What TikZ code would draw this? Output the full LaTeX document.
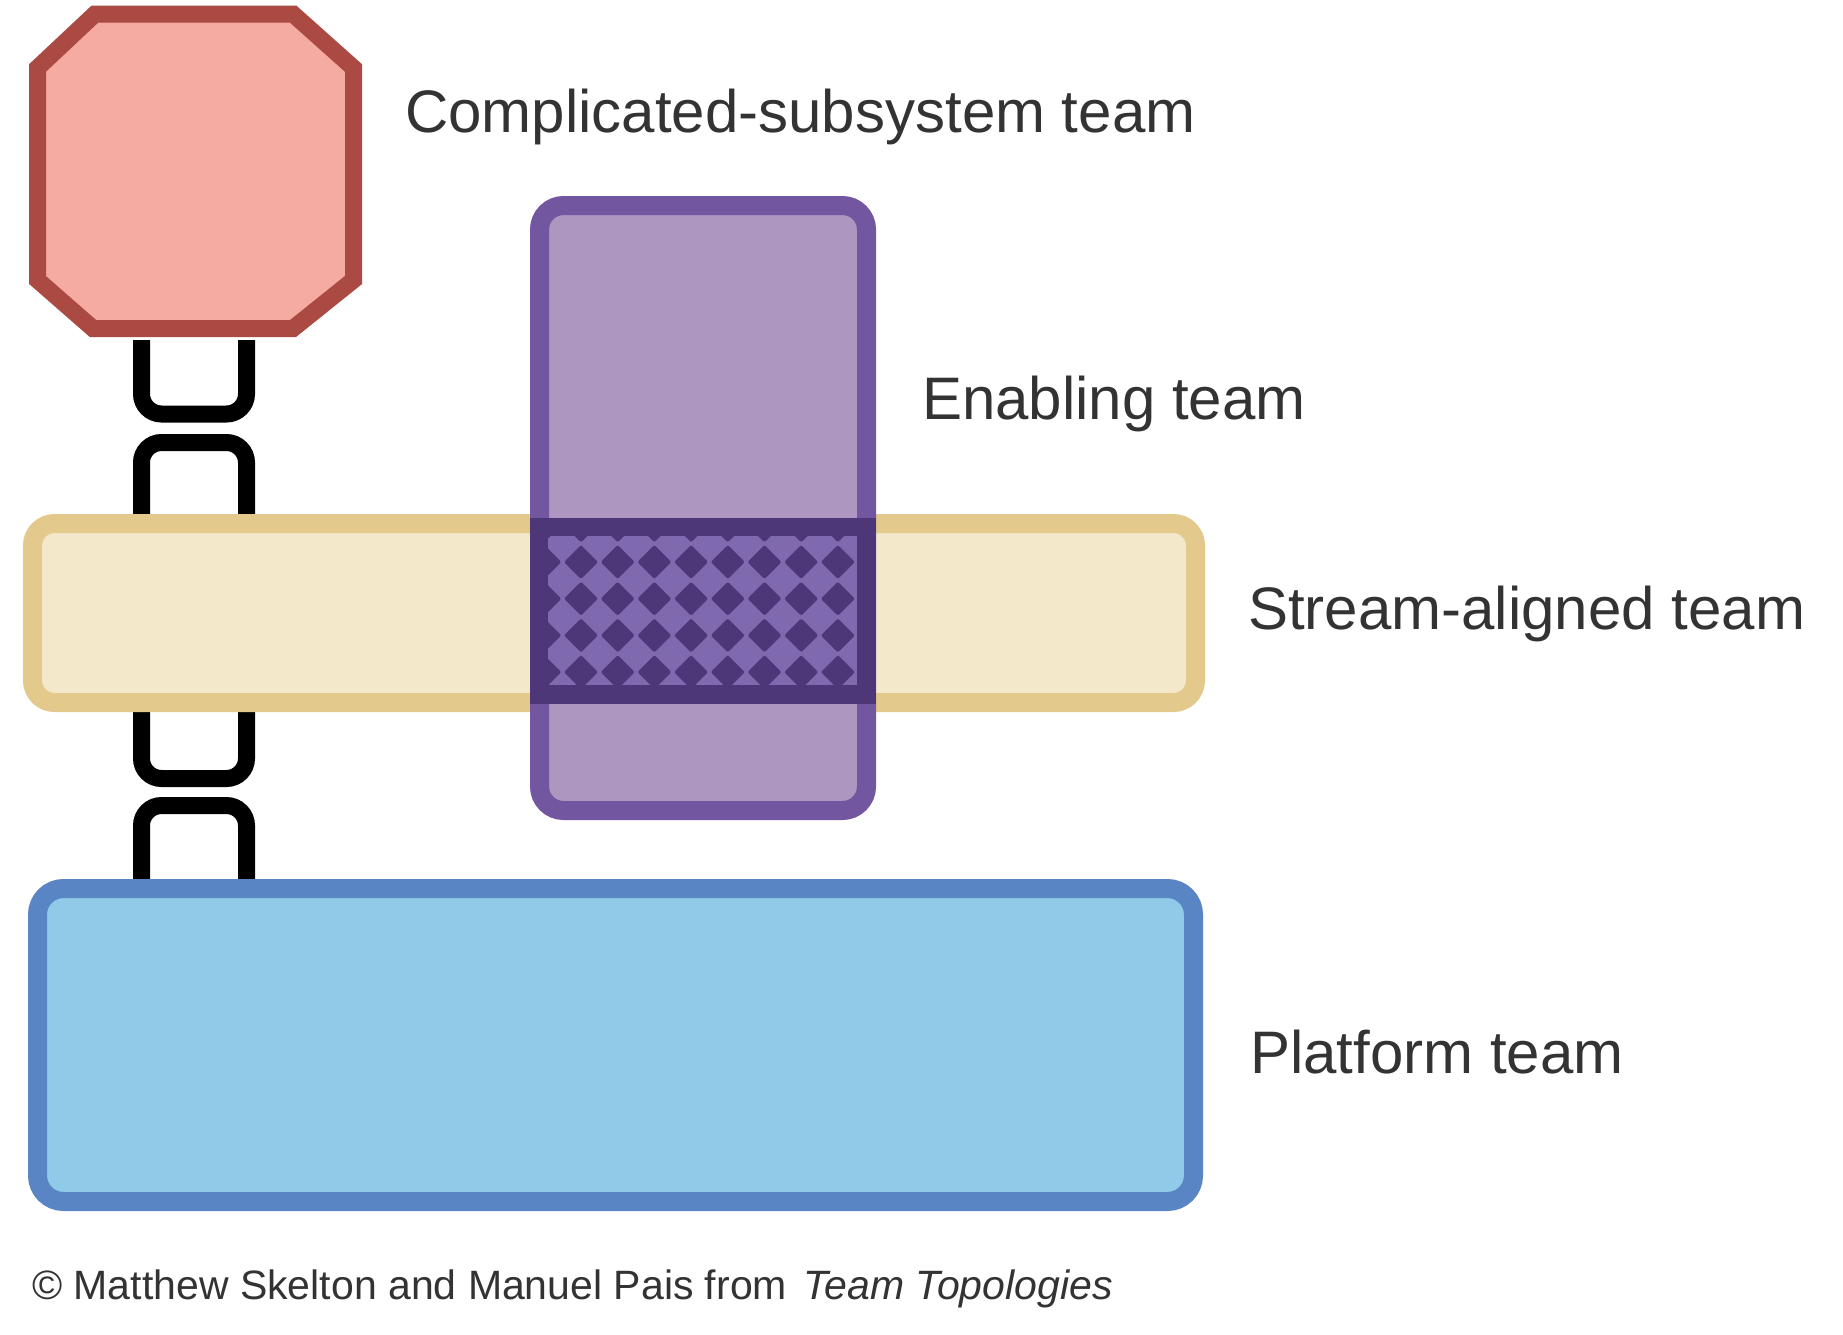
\documentclass[tikz,border=0pt]{standalone}
\usepackage{fontspec}
\setmainfont{Liberation Sans}
\definecolor{octfill}{HTML}{F5ABA1}
\definecolor{octline}{HTML}{AB4A43}
\definecolor{enafill}{HTML}{AD96C0}
\definecolor{enaline}{HTML}{7356A0}
\definecolor{banddark}{HTML}{4E3779}
\definecolor{bandlight}{HTML}{7F6AAF}
\definecolor{strfill}{HTML}{F4E8CB}
\definecolor{strline}{HTML}{E3C98B}
\definecolor{platfill}{HTML}{8FCBE8}
\definecolor{platline}{HTML}{5985C4}
\definecolor{txt}{HTML}{333333}
\begin{document}
\begin{tikzpicture}[x=1pt,y=-1pt,
  teambox/.style={rectangle, line width=19pt, inner sep=0pt, outer sep=0pt},
  link/.style={draw=black, line width=17pt, rounded corners=20pt, line cap=butt},
  label/.style={anchor=base west, inner sep=0pt, text=txt, font=\fontsize{60}{72}\selectfont},
  credit/.style={anchor=base west, inner sep=0pt, text=txt, font=\fontsize{41}{48}\selectfont}]
\useasboundingbox[fill=white] (0,0) rectangle (1843,1334);

% chain links (drawn first, boxes cover their ends)
\coordinate (l1a) at (141.5,340);  \coordinate (l1b) at (246.5,340);
\coordinate (l2a) at (141.5,524);  \coordinate (l2b) at (246.5,524);
\coordinate (l3a) at (141.5,703);  \coordinate (l3b) at (246.5,703);
\coordinate (l4a) at (141.5,889);  \coordinate (l4b) at (246.5,889);
\draw[link] (l1a) -- (141.5,414) -- (246.5,414) -- (l1b);
\draw[link] (l2a) -- (141.5,442.5) -- (246.5,442.5) -- (l2b);
\draw[link] (l3a) -- (141.5,778.5) -- (246.5,778.5) -- (l3b);
\draw[link] (l4a) -- (141.5,805.5) -- (246.5,805.5) -- (l4b);

% complicated-subsystem team (octagon)
\filldraw[fill=octfill, draw=octline, line width=17pt, line join=miter]
  (95,14) -- (293,14) -- (353.5,68) -- (353.5,280) -- (293,328.5)
  -- (93,328.5) -- (37.5,280) -- (37.5,68) -- cycle;
\coordinate (oct) at (195.5,171);

% stream-aligned team
\node[teambox, fill=strfill, draw=strline, rounded corners=22pt,
  minimum width=1163pt, minimum height=179pt] (stream) at (614,613) {};

% enabling team
\node[teambox, fill=enafill, draw=enaline, rounded corners=24pt,
  minimum width=327pt, minimum height=605pt] (enab) at (703,508) {};

% overlap band
\node[rectangle, fill=banddark, inner sep=0pt, minimum width=346pt, minimum height=186pt] (band) at (703,611) {};
\node[rectangle, fill=bandlight, inner sep=0pt, minimum width=309pt, minimum height=149pt] (patt) at (702.5,610.5) {};
\begin{scope}
  \clip (548,536) rectangle (857,685);
  \foreach \i in {-1,...,8} {
    \foreach \j in {-1,...,4} {
      \fill[banddark, rounded corners=2pt] ({581+36.7*\i},{562+36.7*\j-17}) -- ++(17,17) -- ++(-17,17) -- ++(-17,-17) -- cycle;
    }
  }
\end{scope}

% platform team
\node[teambox, fill=platfill, draw=platline, rounded corners=26pt,
  minimum width=1156pt, minimum height=313pt] (plat) at (615.5,1045) {};

% labels
\node[label] (tcs) at (405,132) {Complicated-subsystem team};
\node[label] (ten) at (922,419) {Enabling team};
\node[label] (tsa) at (1248,629) {Stream-aligned team};
\node[label] (tpl) at (1250,1073) {Platform team};
\node[credit] (cred) at (32,1299) {© Matthew Skelton and Manuel Pais from\hspace{0.12em} \textit{Team Topologies}};
\end{tikzpicture}
\end{document}
